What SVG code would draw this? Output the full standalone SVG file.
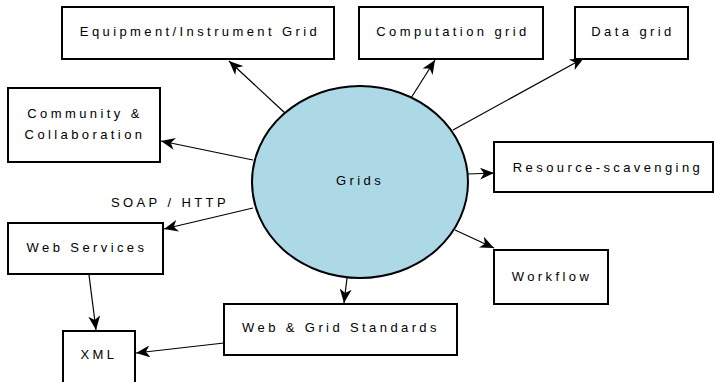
<svg xmlns="http://www.w3.org/2000/svg" width="715" height="382" viewBox="0 0 715 382">
<style>
.box{fill:#fff;stroke:#000;stroke-width:2}
.t{font-family:"Liberation Sans",Arial,sans-serif;font-size:13px;letter-spacing:3.4px;fill:#000;text-anchor:middle}
.c{fill:none;stroke:#000;stroke-width:1.2;marker-end:url(#ah)}
</style>
<defs>
<marker id="ah" viewBox="0 0 14 12" refX="14" refY="6" markerWidth="14" markerHeight="12" markerUnits="userSpaceOnUse" orient="auto">
<path d="M0,0 L14,6 L0,12 L4,6 z" fill="#000"/>
</marker>
</defs>
<rect width="715" height="382" fill="#fff"/>
<g id="connectors">
<line class="c" x1="285" y1="113" x2="229" y2="61"/>
<line class="c" x1="411" y1="98" x2="435" y2="60"/>
<line class="c" x1="453" y1="130" x2="584" y2="58"/>
<line class="c" x1="253" y1="160" x2="161" y2="141"/>
<line class="c" x1="468" y1="174" x2="494" y2="173"/>
<line class="c" x1="253" y1="208" x2="164" y2="229"/>
<line class="c" x1="455" y1="230" x2="494" y2="248"/>
<line class="c" x1="347" y1="278" x2="344" y2="303"/>
<line class="c" x1="89" y1="275" x2="96" y2="330"/>
<line class="c" x1="224" y1="343" x2="136" y2="353"/>
<text class="t" x="170" y="207">SOAP / HTTP</text>
</g>
<g id="grids">
<ellipse cx="360" cy="182" rx="108" ry="96" fill="#add8e6" stroke="#000" stroke-width="2"/>
<text class="t" x="360" y="185">Grids</text>
</g>
<g id="equipment">
<rect class="box" x="62" y="7" width="272" height="52"/>
<text class="t" x="200" y="36">Equipment/Instrument Grid</text>
</g>
<g id="computation">
<rect class="box" x="359" y="7" width="184" height="52"/>
<text class="t" x="453" y="36">Computation grid</text>
</g>
<g id="data">
<rect class="box" x="575" y="7" width="113" height="52"/>
<text class="t" x="633" y="36">Data grid</text>
</g>
<g id="community">
<rect class="box" x="8" y="88" width="152" height="74"/>
<text class="t" x="85" y="118">Community &amp;</text>
<text class="t" x="85" y="139">Collaboration</text>
</g>
<g id="resource">
<rect class="box" x="494" y="142" width="219" height="50"/>
<text class="t" x="608" y="172">Resource-scavenging</text>
</g>
<g id="webservices">
<rect class="box" x="8" y="223" width="155" height="51"/>
<text class="t" x="87" y="252">Web Services</text>
</g>
<g id="workflow">
<rect class="box" x="494" y="250" width="114" height="54"/>
<text class="t" x="552" y="281">Workflow</text>
</g>
<g id="standards">
<rect class="box" x="224" y="304" width="233" height="51"/>
<text class="t" x="341" y="332">Web &amp; Grid Standards</text>
</g>
<g id="xml">
<rect class="box" x="63" y="331" width="72" height="56"/>
<text class="t" x="99" y="359">XML</text>
</g>
</svg>
